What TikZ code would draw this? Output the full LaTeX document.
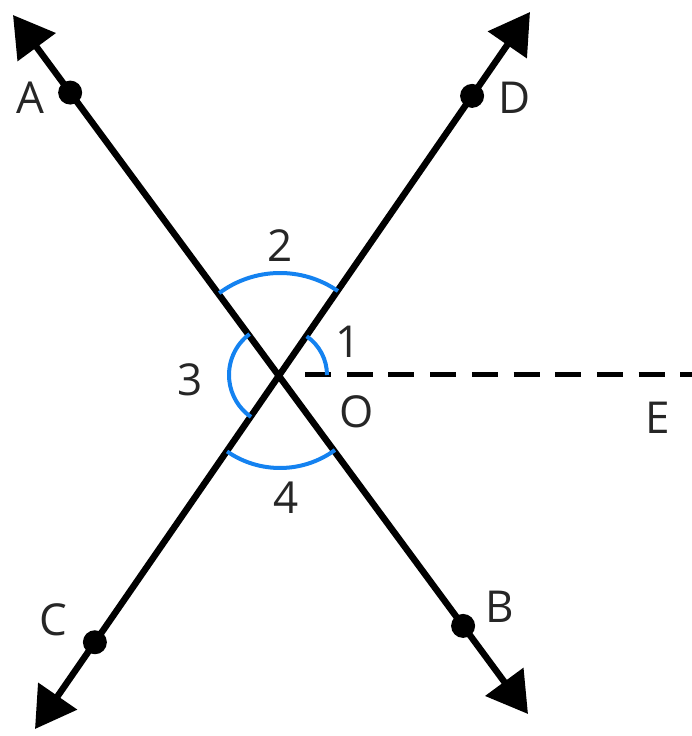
\documentclass[tikz,border=0pt]{standalone}
\usepackage{fontspec}
\setmainfont{Open Sans}
\usetikzlibrary{arrows.meta,calc}
\definecolor{arcblue}{RGB}{20,130,240}
\begin{document}
\begin{tikzpicture}[x=1pt,y=1pt,
  mainline/.style={line width=6.5pt,{Triangle[length=40pt,width=46pt]}-{Triangle[length=40pt,width=46pt]}},
  dashline/.style={line width=5pt,dash pattern=on 26pt off 15.7pt},
  angarc/.style={arcblue,line width=4pt},
  dotnode/.style={circle,fill=black,inner sep=0pt,minimum size=24pt},
  lbl/.style={font=\fontsize{44}{44}\selectfont,inner sep=0pt,text=black!85}]
\useasboundingbox (0,0) rectangle (691,736);
% points (y = 736 - image row)
\coordinate (Atip) at (13,721);
\coordinate (Btip) at (528,22);
\coordinate (Ctip) at (35,7);
\coordinate (Dtip) at (530,724);
\coordinate (O) at (280,361);
\coordinate (Es) at (305,361);
\coordinate (Ee) at (693,361);
% lines
\draw[mainline] (Atip) -- (Btip);
\draw[mainline] (Ctip) -- (Dtip);
\draw[dashline] (Es) -- (Ee);
% dots
\node[dotnode] (dA) at ($(Atip)!0.111!(Btip)$) {};
\node[dotnode] (dB) at ($(Atip)!0.874!(Btip)$) {};
\node[dotnode] (dC) at ($(Ctip)!0.121!(Dtip)$) {};
\node[dotnode] (dD) at ($(Ctip)!0.883!(Dtip)$) {};
% angle arcs
\draw[angarc] ($(O)+(55.4:102)$) arc[start angle=55.4,end angle=126.6,radius=102];
\draw[angarc] ($(O)+(235.3:93)$) arc[start angle=235.3,end angle=306.2,radius=93];
\draw[angarc] ($(O)+(126.6:51)$) arc[start angle=126.6,end angle=235.3,radius=51];
\draw[angarc] ($(O)+(0:47)$) arc[start angle=0,end angle=55.4,radius=47];
% labels
\node[lbl] (lA) at (30,638) {A};
\node[lbl] (lD) at (515,638) {D};
\node[lbl] (lC) at (53,116) {C};
\node[lbl] (lB) at (500,129) {B};
\node[lbl] (lE) at (658,318) {E};
\node[lbl] (lO) at (357,324) {O};
\node[lbl] (l1) at (348,394) {1};
\node[lbl] (l2) at (280,490) {2};
\node[lbl] (l3) at (190,356) {3};
\node[lbl] (l4) at (286,238) {4};
\end{tikzpicture}
\end{document}
